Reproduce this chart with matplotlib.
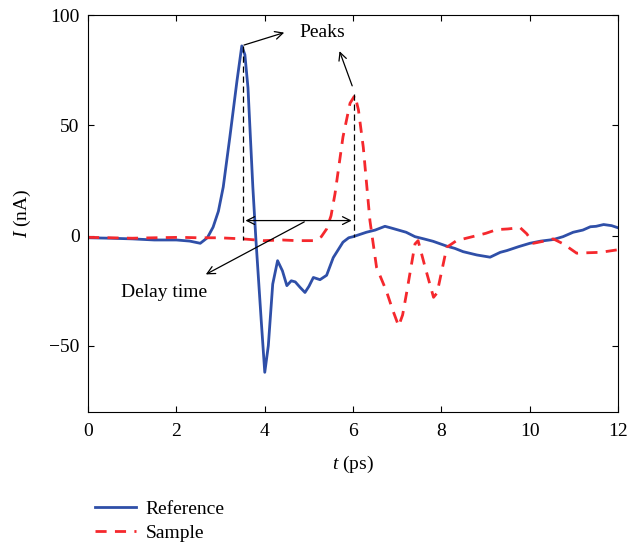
import matplotlib
matplotlib.use('Agg')
import matplotlib.pyplot as plt
import numpy as np

plt.rcParams['font.family'] = ['Liberation Serif', 'DejaVu Serif']
plt.rcParams['mathtext.fontset'] = 'custom'
plt.rcParams['mathtext.it'] = 'Liberation Serif:italic'
plt.rcParams['mathtext.rm'] = 'Liberation Serif'

# Reference pulse
t_ref = [0.0, 0.5, 1.0, 1.5, 2.0, 2.3, 2.54, 2.7, 2.83, 2.95, 3.06, 3.21, 3.37, 3.48, 3.55,
         3.62, 3.73, 3.8, 3.92, 4.0, 4.08, 4.18, 4.29, 4.4, 4.5, 4.6, 4.69, 4.8, 4.91, 5.0,
         5.1, 5.25, 5.4, 5.55, 5.77, 5.9, 6.0, 6.15, 6.3, 6.5, 6.72, 6.85, 7.06, 7.2, 7.4,
         7.6, 7.81, 8.12, 8.3, 8.49, 8.8, 9.1, 9.33, 9.48, 9.75, 10.0, 10.25, 10.53, 10.75,
         10.98, 11.2, 11.37, 11.5, 11.67, 11.85, 12.0]
i_ref = [-1.0, -1.2, -1.5, -2.0, -2.0, -2.5, -3.5, -1.0, 3.8, 11.0, 22.0, 44.7, 70.0, 86.0, 82.0,
         67.0, 22.0, -2.0, -38.6, -62.0, -50.0, -22.0, -11.4, -16.0, -22.7, -20.5, -21.0, -23.5, -25.8, -23.0,
         -19.0, -20.0, -18.0, -10.0, -3.0, -1.0, -0.5, 0.5, 1.5, 2.5, 4.2, 3.5, 2.3, 1.5, -0.5,
         -1.5, -2.6, -4.8, -5.8, -7.3, -8.8, -9.8, -7.6, -6.8, -5.0, -3.5, -2.5, -1.8, -0.5,
         1.5, 2.5, 4.0, 4.2, 5.0, 4.5, 3.5]

# Sample pulse
t_smp = [0.0, 0.5, 1.0, 1.5, 2.08, 2.5, 2.97, 3.5, 3.97, 4.4, 4.72, 5.14, 5.28, 5.4, 5.5,
         5.59, 5.77, 5.93, 6.04, 6.12, 6.23, 6.38, 6.53, 6.75, 6.9, 7.03, 7.12, 7.21, 7.4,
         7.47, 7.63, 7.82, 7.9, 8.12, 8.34, 8.6, 8.8, 9.0, 9.25, 9.5, 9.78, 9.93, 10.08,
         10.3, 10.53, 10.76, 11.06, 11.3, 11.6, 11.97]
i_smp = [-0.8, -1.0, -1.2, -1.0, -0.8, -1.0, -1.0, -1.5, -2.3, -2.0, -2.3, -2.3, -0.5, 3.0, 9.0,
         19.0, 44.7, 60.0, 63.6, 57.0, 40.0, 6.8, -14.4, -25.0, -34.0, -41.0, -36.0, -26.0, -3.8,
         -2.3, -14.4, -28.0, -26.0, -5.3, -2.3, -1.0, 0.0, 1.0, 2.7, 3.0, 3.6, 0.8, -3.5,
         -2.6, -1.5, -3.8, -8.0, -7.8, -7.6, -6.5]

# Annotation anchors
t_peak_ref, i_peak_ref = 3.5, 86.0
t_peak_smp, i_peak_smp = 6.03, 64.0
i_delay = 6.8

fs = 14

fig = plt.figure(figsize=(6.38, 5.46), dpi=100)
ax = fig.add_axes([0.138, 0.2454, 0.831, 0.7271])

l_ref, = ax.plot(t_ref, i_ref, color='#2f4fa8', lw=2.0, label='Reference')
l_smp, = ax.plot(t_smp, i_smp, color='#f5282d', lw=2.0, ls=(0, (4, 3)), label='Sample')

# vertical dashed markers
ax.plot([t_peak_ref, t_peak_ref], [i_peak_ref, -1.8], color='black', lw=0.9, ls=(0, (5, 3)))
ax.plot([t_peak_smp, t_peak_smp], [i_peak_smp, -0.7], color='black', lw=0.9, ls=(0, (5, 3)))

arrow_kw = dict(arrowstyle='->', color='black', lw=0.9, mutation_scale=14)
ax.annotate('', xy=(t_peak_smp, i_delay), xytext=(t_peak_ref, i_delay),
            arrowprops=dict(arrowstyle='<->', color='black', lw=0.9, mutation_scale=14))
ax.annotate('', xy=(4.5, 92.4), xytext=(t_peak_ref - 0.03, i_peak_ref), arrowprops=arrow_kw)
ax.annotate('', xy=(5.67, 84.8), xytext=(6.0, 66.7), arrowprops=arrow_kw)
ax.annotate('', xy=(2.61, -18.2), xytext=(4.95, i_delay), arrowprops=arrow_kw)
ax.text(5.3, 92.0, 'Peaks', fontsize=fs, ha='center', va='center')
ax.text(1.72, -26.0, 'Delay time', fontsize=fs, ha='center', va='center')

ax.set_xlim(0, 12)
ax.set_ylim(-80, 100)
ax.set_xticks([0, 2, 4, 6, 8, 10, 12])
ax.set_yticks([-50, 0, 50, 100])
ax.set_yticklabels(['\u221250', '0', '50', '100'])
ax.tick_params(direction='in', top=True, right=True, labelsize=fs, length=4)
ax.tick_params(axis='x', pad=8)
ax.tick_params(axis='y', pad=6)
ax.set_xlabel('$\\mathit{t}$ (ps)', fontsize=fs)
ax.set_ylabel('$\\mathit{I}$ (nA)', fontsize=fs)
ax.xaxis.set_label_coords(0.5, -0.105)
ax.yaxis.set_label_coords(-0.104, 0.5)

fig.legend(handles=[l_ref, l_smp], loc='upper left', bbox_to_anchor=(0.149, 0.083),
           frameon=False, fontsize=fs, handlelength=2.1, handletextpad=0.5,
           labelspacing=0.3, borderpad=0, borderaxespad=0)

fig.savefig('out.png', dpi=100)
